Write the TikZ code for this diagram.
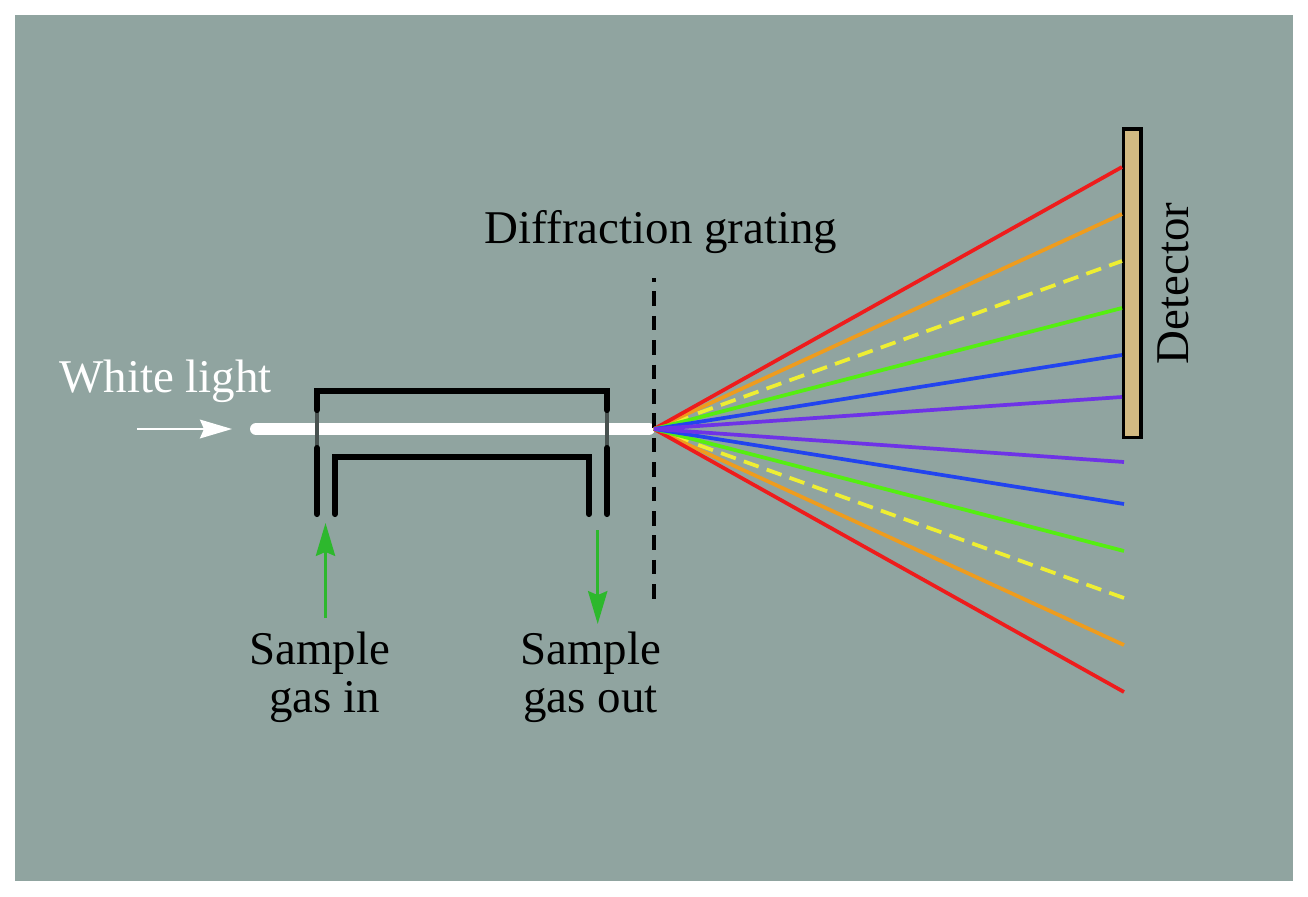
\documentclass[tikz,border=0pt]{standalone}
\usepackage{fontspec}
\setmainfont{Liberation Serif}
\usetikzlibrary{arrows.meta,calc}
\definecolor{bgc}{HTML}{90A4A0}
\definecolor{tanc}{HTML}{D2BA82}
\definecolor{ared}{HTML}{EE1C1C}
\definecolor{aora}{HTML}{EE9C1E}
\definecolor{ayel}{HTML}{EEEE33}
\definecolor{agrn}{HTML}{55EE11}
\definecolor{ablu}{HTML}{2244EE}
\definecolor{avio}{HTML}{6E33E6}
\definecolor{agas}{HTML}{2DB82D}
\tikzset{
 px/.style={x=0.75pt,y=-0.75pt},
 tube/.style={line width=4.6pt,black,line cap=round,line join=miter},
 ray/.style={line width=2.8pt},
 windowline/.style={black!50!bgc,line width=2.6pt},
 lab/.style={font=\fontsize{35.2pt}{36pt}\selectfont,inner sep=0pt,align=center,text=black},
 gasarrow/.style={agas,line width=1.9pt,-{Stealth[length=24.7pt,width=14.5pt,inset=3pt]}},
}
\begin{document}
\begin{tikzpicture}[px]
\useasboundingbox (0,0) rectangle (1308,896);
\fill[white] (0,0) rectangle (1308,896);
\fill[bgc] (15,15) rectangle (1293,881);
% coordinates
\coordinate (src) at (654,429);
\coordinate (bs) at (256,429);
\coordinate (be) at (649,429);
% beam
\draw[white,line width=9pt,line cap=round] (bs) -- (be);
% windows
\coordinate (wl1) at (317,410);\coordinate (wl2) at (317,448);
\coordinate (wr1) at (607,410);\coordinate (wr2) at (607,448);
\draw[windowline] (wl1) -- (wl2);
\draw[windowline] (wr1) -- (wr2);
% tube
\draw[tube] (wl1) -- (317,391) -- (607,391) -- (wr1);
\draw[tube] (wl2) -- (317,514);
\draw[tube] (wr2) -- (607,514);
\draw[tube] (335,514) -- (335,457) -- (589,457) -- (589,514);
% grating
\coordinate (g1) at (654,278);\coordinate (g2) at (654,600);
\draw[black,line width=2.4pt,dash pattern=on 10.9pt off 7.4pt,dash phase=8.2pt] (g1) -- (g2);
% detector
\node[draw=black,fill=tanc,line width=2.6pt,inner sep=0pt,anchor=north west,minimum width=13.1pt,minimum height=231.4pt] (det) at (1121.7,127.3) {};
% rays
\coordinate (r1) at (1122,167);\coordinate (r2) at (1122,214);\coordinate (r3) at (1122,261);
\coordinate (r4) at (1122,308);\coordinate (r5) at (1122,355);\coordinate (r6) at (1122,397);
\coordinate (s1) at (1124,692);\coordinate (s2) at (1124,645);\coordinate (s3) at (1124,598);
\coordinate (s4) at (1124,551);\coordinate (s5) at (1124,504);\coordinate (s6) at (1124,462);
\foreach \e in {r3,s3}{
 \draw[ayel,ray] (src) -- ($(src)!0.073!(\e)$);
 \draw[ayel,ray,dash pattern=on 11.8pt off 6.4pt] ($(src)!0.094!(\e)$) -- (\e);
}
\draw[aora,ray] (src) -- (r2);
\draw[aora,ray] (src) -- (s2);
\draw[ared,ray] (src) -- (r1);
\draw[ared,ray] (src) -- (s1);
\draw[agrn,ray] (src) -- (r4);
\draw[agrn,ray] (src) -- (s4);
\draw[ablu,ray] (src) -- (r5);
\draw[ablu,ray] (src) -- (s5);
\draw[avio,ray] (src) -- (r6);
\draw[avio,ray] (src) -- (s6);
% arrows
\coordinate (wa1) at (137,429);\coordinate (wa2) at (232,429);
\draw[white,line width=1.9pt,-{Stealth[length=24pt,width=14pt,inset=3pt]}] (wa1) -- (wa2);
\coordinate (ga1) at (325.5,618);\coordinate (ga2) at (325.5,523);
\draw[gasarrow] (ga1) -- (ga2);
\coordinate (gb1) at (597.7,530);\coordinate (gb2) at (597.7,624);
\draw[gasarrow] (gb1) -- (gb2);
% labels
\node[lab] (tw) at (165.5,381) {\textcolor{white}{White light}};
\node[lab] (tg) at (661,232) {Diffraction grating};
\node[lab,rotate=90] (td) at (1173,283.5) {Detector};
\node[lab] (ti) at (319.5,677) {Sample\\\hspace*{8pt}gas in};
\node[lab] (to) at (590.5,677) {Sample\\gas out};
\end{tikzpicture}
\end{document}
